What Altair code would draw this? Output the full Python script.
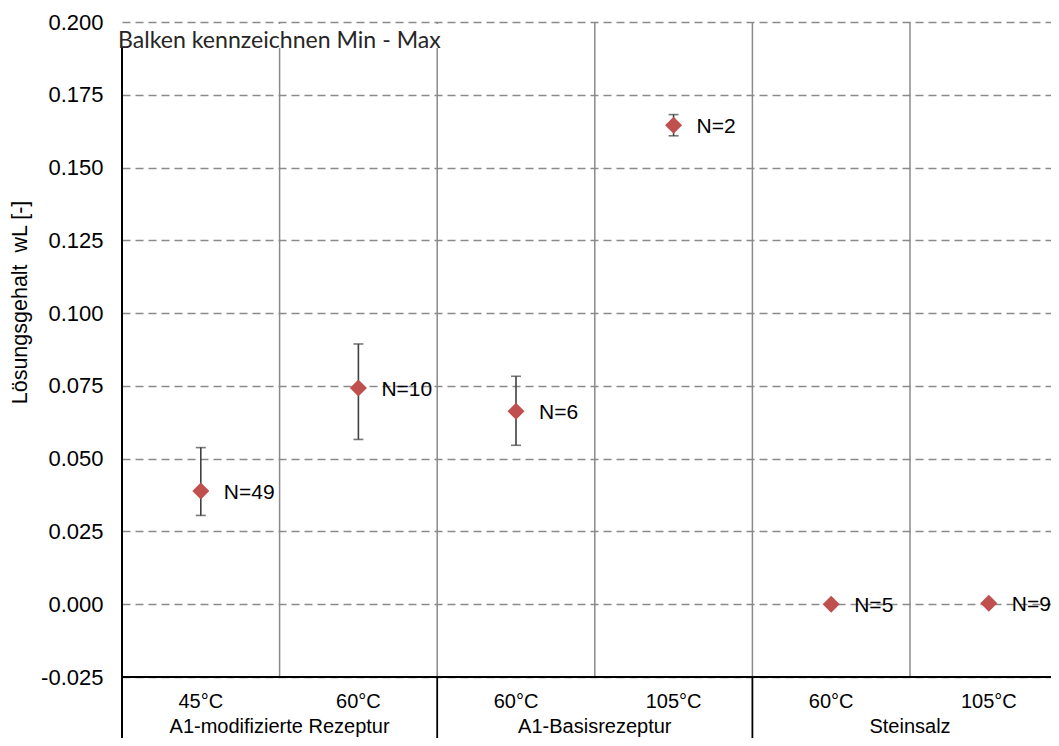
import altair as alt
import pandas as pd

# ---------------- data ----------------
categories = ["45°C", "60°C", "60°C", "105°C", "60°C", "105°C"]
groups = ["A1-modifizierte Rezeptur", "A1-Basisrezeptur", "Steinsalz"]
means = [0.0389, 0.0743, 0.0663, 0.1645, 0.0000, 0.0003]
mins = [0.0305, 0.0566, 0.0546, 0.1609, 0.0000, 0.0003]
maxs = [0.0538, 0.0894, 0.0783, 0.1682, 0.0000, 0.0003]
counts = ["N=49", "N=10", "N=6", "N=2", "N=5", "N=9"]
y_ticks = [-0.025, 0.0, 0.025, 0.05, 0.075, 0.1, 0.125, 0.15, 0.175, 0.2]
note = "Balken kennzeichnen Min - Max"
y_title = "Lösungsgehalt\u00a0 wL [-]"

# ---------------- layout ----------------
W, H = 929, 655
CAT_W = 157.6
XMAX = W / CAT_W

df = pd.DataFrame({
    "pos": [i + 0.5 for i in range(len(categories))],
    "cat": categories,
    "mean": means,
    "lo": mins,
    "hi": maxs,
    "n": counts,
})
sep_df = pd.DataFrame({"x": [1, 2, 3, 4, 5]})
grp_sep_df = pd.DataFrame({"x": [2, 4]})
grp_df = pd.DataFrame({"x": [1, 3, 5], "g": groups})
tick_df = pd.DataFrame({"v": y_ticks})

xs = alt.Scale(domain=[0, XMAX], nice=False, zero=False)
ys = alt.Scale(domain=[-0.025, 0.2], nice=False, zero=False)
FONT = "Liberation Sans"

yaxis = alt.Axis(
    values=y_ticks,
    labelExpr="datum.value < 0 ? '-' + format(-datum.value, '.3f') : format(datum.value, '.3f')",
    grid=True, gridDash=[8, 5], gridColor="#8a8a8a",
    gridWidth=1.3, domain=False, ticks=False, labelPadding=19, labelFont=FONT,
    labelFontSize=22, labelColor="#000000", title=y_title, titleFont=FONT,
    titleFontSize=21.5, titleFontWeight="normal", titleColor="#000000",
    titleX=-102, titleY=280, titleAngle=270, titleAlign="center", titleBaseline="middle",
)


def Y(field):
    return alt.Y(field, scale=ys, axis=yaxis)


# invisible layer carrying the y axis
axis_layer = alt.Chart(tick_df).mark_point(opacity=0, size=1).encode(
    x=alt.value(0),
    y=Y("v:Q"),
)

# vertical grey separators
seps = alt.Chart(sep_df).mark_rule(color="#8a8a8a", strokeWidth=1.5).encode(
    x=alt.X("x:Q", scale=xs, axis=None),
    y=alt.value(0), y2=alt.value(H),
)

# x-axis black line
xline = alt.Chart(sep_df).mark_rule(color="#000000", strokeWidth=1.8).encode(
    x=alt.value(0), x2=alt.value(W), y=alt.value(H),
)
# left axis black line
yline = alt.Chart(sep_df).mark_rule(color="#000000", strokeWidth=2).encode(
    x=alt.value(0), y=alt.value(26), y2=alt.value(H + 120),
)
# group separators in the category-axis area
gseps = alt.Chart(grp_sep_df).mark_rule(color="#000000", strokeWidth=1.8).encode(
    x=alt.X("x:Q", scale=xs, axis=None),
    y=alt.value(H), y2=alt.value(H + 120),
)

# white box behind the note
box = alt.Chart(sep_df).mark_rect(color="#ffffff").encode(
    x=alt.value(-5), x2=alt.value(324), y=alt.value(2), y2=alt.value(26),
)
note_t = alt.Chart(pd.DataFrame({"t": [note]})).mark_text(
    align="left", baseline="alphabetic", font="Lato", fontSize=23.1, color="#262626"
).encode(x=alt.value(-4), y=alt.value(25.5), text="t:N")

# error bars
bars = alt.Chart(df).mark_rule(color="#404040", strokeWidth=1.6).encode(
    x=alt.X("pos:Q", scale=xs, axis=None),
    y=Y("lo:Q"),
    y2="hi:Q",
)
cap_lo = alt.Chart(df).mark_tick(color="#404040", thickness=1.6, size=10, orient="horizontal").encode(
    x=alt.X("pos:Q", scale=xs, axis=None),
    y=Y("lo:Q"),
)
cap_hi = alt.Chart(df).mark_tick(color="#404040", thickness=1.6, size=10, orient="horizontal").encode(
    x=alt.X("pos:Q", scale=xs, axis=None),
    y=Y("hi:Q"),
)

pts = alt.Chart(df).mark_point(shape="diamond", filled=True, color="#C0504D", size=290, opacity=1).encode(
    x=alt.X("pos:Q", scale=xs, axis=None),
    y=Y("mean:Q"),
)

nlab = alt.Chart(df).mark_text(align="left", baseline="middle", dx=23, dy=2, font=FONT,
                               fontSize=21, color="#000000").encode(
    x=alt.X("pos:Q", scale=xs, axis=None),
    y=Y("mean:Q"),
    text="n:N",
)

catlab = alt.Chart(df).mark_text(align="center", baseline="middle", font=FONT, fontSize=20,
                                 color="#000000").encode(
    x=alt.X("pos:Q", scale=xs, axis=None),
    y=alt.value(H + 25),
    text="cat:N",
)
grplab = alt.Chart(grp_df).mark_text(align="center", baseline="middle", font=FONT, fontSize=20,
                                     color="#000000").encode(
    x=alt.X("x:Q", scale=xs, axis=None),
    y=alt.value(H + 50),
    text="g:N",
)

chart = alt.layer(
    axis_layer, seps, xline, gseps, yline, box, note_t, bars, cap_lo, cap_hi, pts, nlab, catlab, grplab
).properties(
    width=W, height=H,
    autosize=alt.AutoSizeParams(type="none"),
    padding={"left": 114, "top": 14, "right": 0, "bottom": 61},
    background="#ffffff",
).configure_view(stroke=None).configure_axisY(
    titleFontSize=21.5, titleFont=FONT, titleFontWeight="normal", titleColor="#000000"
)

chart.save("out.html", embed_options={"renderer": "svg", "actions": False})
